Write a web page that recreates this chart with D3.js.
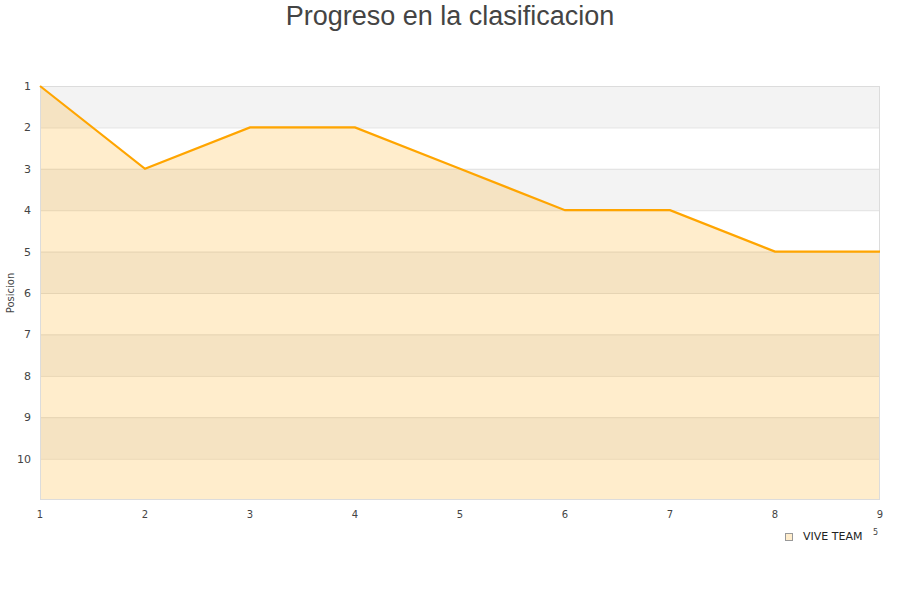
<!DOCTYPE html>
<html><head><meta charset="utf-8">
<script src="https://cdn.jsdelivr.net/npm/d3@7/dist/d3.min.js"></script>
<style>body{margin:0;background:#fff}svg{display:block}</style>
</head><body><svg id="c" width="900" height="600"></svg>
<script>
const jornadas = [1,2,3,4,5,6,7,8,9];
const posiciones = [1,3,2,2,3,4,4,5,5];
const yTicks = [1,2,3,4,5,6,7,8,9,10];
const title = "Progreso en la clasificacion";
const yTitle = "Posicion";
const seriesName = "VIVE TEAM";

const svg = d3.select("#c");
const L=40,R=880,T=86,B=500;
const x = d3.scaleLinear().domain([1,9]).range([L,R]);
const y = d3.scaleLinear().domain([1,11]).range([T,B]);

// bands
const bands = d3.range(1,11);
svg.append("g").selectAll("rect").data(bands).join("rect")
  .attr("x",L).attr("width",R-L)
  .attr("y",d=>y(d)).attr("height",d=>y(d+1)-y(d))
  .attr("fill",d=>d%2===1?"#f3f3f3":"#ffffff");
// grid
svg.append("g").selectAll("line").data(d3.range(2,11)).join("line")
  .attr("x1",L).attr("x2",R).attr("y1",d=>y(d)+0.5).attr("y2",d=>y(d)+0.5)
  .attr("stroke","#e0e0e0").attr("stroke-width",1);

const pts = jornadas.map((j,i)=>[j,posiciones[i]]);
const area = d3.area().x(d=>x(d[0])).y0(B).y1(d=>y(d[1]));
svg.append("path").attr("d",area(pts)).attr("fill","rgba(255,165,0,0.2)");
// border
svg.append("rect").attr("x",L+0.5).attr("y",T+0.5).attr("width",R-L-1).attr("height",B-T-1)
  .attr("fill","none").attr("stroke","#dcdcdc");
const line = d3.line().x(d=>x(d[0])).y(d=>y(d[1]));
svg.append("path").attr("d",line(pts)).attr("fill","none").attr("stroke","#ffa500").attr("stroke-width",2.2);

// y ticks
svg.append("g").selectAll("text").data(yTicks).join("text")
  .attr("x",31).attr("y",d=>y(d)+4).attr("text-anchor","end")
  .attr("font-family","DejaVu Sans").attr("font-size",11).attr("fill","#444").text(d=>d);
// x ticks
svg.append("g").selectAll("text").data(jornadas).join("text")
  .attr("x",d=>x(d)).attr("y",518).attr("text-anchor","middle")
  .attr("font-family","DejaVu Sans").attr("font-size",10).attr("fill","#444").text(d=>d);

svg.append("text").attr("x",450).attr("y",25).attr("text-anchor","middle")
  .attr("font-family","Liberation Sans, Arial").attr("font-size",27).attr("fill","#444").text(title);
svg.append("text").attr("transform","translate(14,293) rotate(-90)").attr("text-anchor","middle")
  .attr("font-family","DejaVu Sans").attr("font-size",10).attr("fill","#444").text(yTitle);

// legend
svg.append("rect").attr("x",785.5).attr("y",533.5).attr("width",7).attr("height",7)
  .attr("fill","rgba(255,165,0,0.2)").attr("stroke","#999");
svg.append("text").attr("x",803).attr("y",540).attr("font-family","DejaVu Sans").attr("font-size",11)
  .attr("fill","#222").text(seriesName);
svg.append("text").attr("x",873).attr("y",535).attr("font-family","DejaVu Sans").attr("font-size",8)
  .attr("fill","#444").text("5");
</script></body></html>
